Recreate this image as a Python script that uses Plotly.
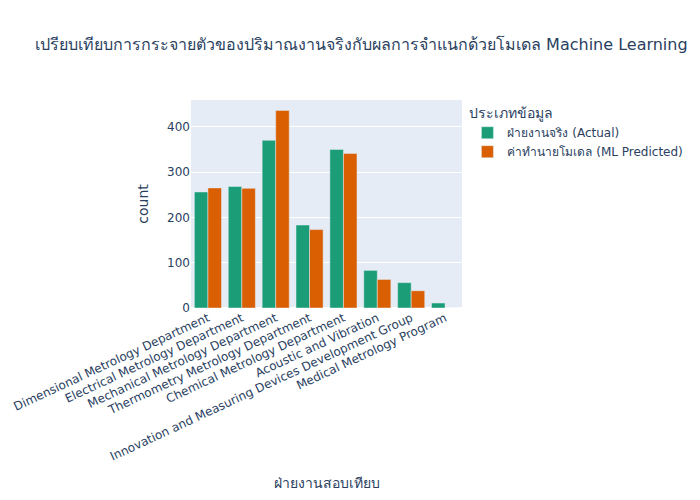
import plotly.graph_objects as go

departments = [
    "Dimensional Metrology Department",
    "Electrical Metrology Department",
    "Mechanical Metrology Department",
    "Thermometry Metrology Department",
    "Chemical Metrology Department",
    "Acoustic and Vibration",
    "Innovation and Measuring Devices Development Group",
    "Medical Metrology Program",
]
actual_counts = [256, 268, 370, 183, 350, 83, 56, 11]
predicted_counts = [265, 264, 436, 173, 341, 63, 38, 0]

fig = go.Figure()
fig.add_trace(go.Bar(x=departments, y=actual_counts, name="ฝ่ายงานจริง (Actual)",
                     marker_color="#1b9e77"))
fig.add_trace(go.Bar(x=departments, y=predicted_counts, name="ค่าทำนายโมเดล (ML Predicted)",
                     marker_color="#d95f02"))

fig.update_layout(
    title=dict(text="เปรียบเทียบการกระจายตัวของปริมาณงานจริงกับผลการจำแนกด้วยโมเดล Machine Learning",
               font_size=16),
    font_family="DejaVu Sans",
    barmode="group",
    legend_title_text="ประเภทข้อมูล",
    xaxis_title="ฝ่ายงานสอบเทียบ",
    yaxis_title="count",
    xaxis_tickangle=-25,
    width=700,
    height=500,
)

# drop the page's default body margin so the figure sits at the window corner
fig.write_html("out.html", config={"displayModeBar": False},
               post_script="document.body.style.margin='0';")
